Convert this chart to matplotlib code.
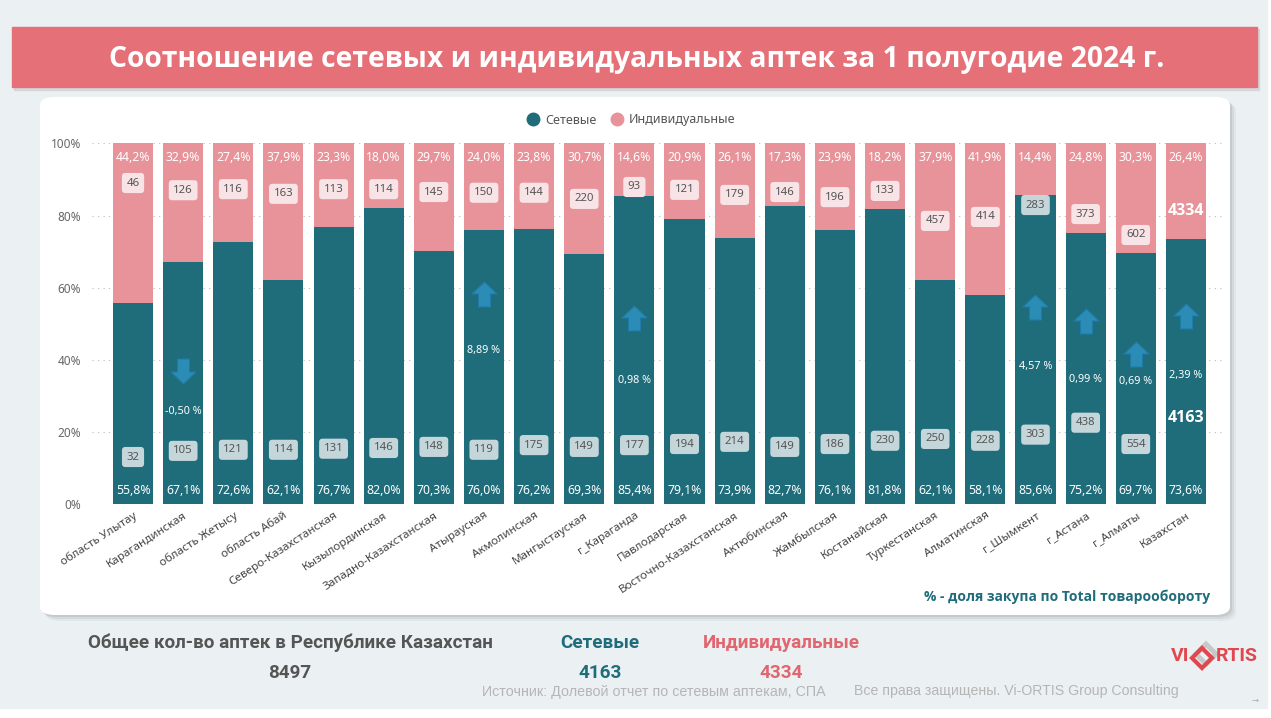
import matplotlib.pyplot as plt
import matplotlib.patches as mpatches
from matplotlib.path import Path
from matplotlib.lines import Line2D

# data
categories = ["область Улытау", "Карагандинская", "область Жетысу", "область Абай",
              "Северо-Казахстанская", "Кызылординская", "Западно-Казахстанская",
              "Атырауская", "Акмолинская", "Мангыстауская", "г_Караганда",
              "Павлодарская", "Восточно-Казахстанская", "Актюбинская", "Жамбылская",
              "Костанайская", "Туркестанская", "Алматинская", "г_Шымкент",
              "г_Астана", "г_Алматы", "Казахстан"]
net_share = [55.8, 67.1, 72.6, 62.1, 76.7, 82.0, 70.3, 76.0, 76.2, 69.3, 85.4,
             79.1, 73.9, 82.7, 76.1, 81.8, 62.1, 58.1, 85.6, 75.2, 69.7, 73.6]
ind_share = [44.2, 32.9, 27.4, 37.9, 23.3, 18.0, 29.7, 24.0, 23.8, 30.7, 14.6,
             20.9, 26.1, 17.3, 23.9, 18.2, 37.9, 41.9, 14.4, 24.8, 30.3, 26.4]
net_count = [32, 105, 121, 114, 131, 146, 148, 119, 175, 149, 177,
             194, 214, 149, 186, 230, 250, 228, 303, 438, 554, 4163]
ind_count = [46, 126, 116, 163, 113, 114, 145, 150, 144, 220, 93,
             121, 179, 146, 196, 133, 457, 414, 283, 373, 602, 4334]
change = [None, -0.50, None, None, None, None, None, 8.89, None, None, 0.98,
          None, None, None, None, None, None, None, 4.57, 0.99, 0.69, 2.39]

total_all = 8497
total_net = 4163
total_ind = 4334

# label placement (in % of axis)
ind_label_y = [89, 87, 87.3, 86, 87.3, 87.3, 86.5, 86.3, 86.3, 84.6, 87.9,
               87.1, 85.7, 86.5, 85.1, 86.8, 78.5, 79.6, 82.9, 80.4, 74.6, 81.2]
net_label_y = [13.1, 14.8, 15.1, 15.1, 15.4, 15.6, 15.9, 15.1, 16.4, 15.9, 16.4,
               16.7, 17.3, 15.9, 16.7, 17.6, 18.1, 17.6, 19.3, 22.6, 16.7, 23.9]
arrow_y = [None, 37.0, None, None, None, None, None, 58.3, None, None, 51.6,
           None, None, None, None, None, None, None, 54.7, 50.8, 41.6, 52.2]
change_text_y = [None, 25.6, None, None, None, None, None, 42.7, None, None, 34.2,
                 None, None, None, None, None, None, None, 38.1, 34.5, 33.9, 35.8]

TEAL = "#1F6C7B"
PINK = "#E8939A"
HEAD = "#E57078"
BG = "#EBF0F3"
ARROW = "#2B8DB5"
LOGO = "#E0474F"

W, H = 1271, 718


def fx(x):
    return x / W


def fy(y):
    return 1 - y / H


fig = plt.figure(figsize=(W / 100, H / 100), dpi=100, facecolor="white")
fig.add_artist(mpatches.Rectangle((0, fy(708)), fx(1267), 1 - fy(708),
                                  transform=fig.transFigure, color=BG, zorder=-5))

# header banner
fig.add_artist(mpatches.Rectangle((fx(14), fy(90)), fx(1245), fy(29) - fy(90),
                                  transform=fig.transFigure, color="#C9CDD0", alpha=0.6, zorder=-4))
fig.add_artist(mpatches.Rectangle((fx(12), fy(87)), fx(1245), fy(27) - fy(87),
                                  transform=fig.transFigure, color=HEAD, zorder=-3))
fig.text(fx(637), fy(59), "Соотношение сетевых и индивидуальных аптек за 1 полугодие 2024 г.",
         color="white", fontsize=20.3, fontweight="bold", family="Open Sans",
         ha="center", va="center")

# white panel with shadow
for off, a in [(6, 0.10), (4, 0.15), (2, 0.2)]:
    fig.add_artist(mpatches.FancyBboxPatch((fx(40 + off), fy(615 + off)), fx(1190), fy(97) - fy(615),
                                           boxstyle="round,pad=0,rounding_size=0.012",
                                           transform=fig.transFigure, color="#8A9096", alpha=a,
                                           lw=0, zorder=-2))
fig.add_artist(mpatches.FancyBboxPatch((fx(40), fy(615)), fx(1190), fy(97) - fy(615),
                                       boxstyle="round,pad=0,rounding_size=0.012",
                                       transform=fig.transFigure, color="white", lw=0, zorder=-1))

ax = fig.add_axes([fx(92), fy(504.3), fx(1223) - fx(92), fy(143.3) - fy(504.3)])
ax.set_facecolor("none")

x = list(range(len(categories)))
ax.bar(x, net_share, width=0.8, color=TEAL, zorder=2)
ax.bar(x, ind_share, bottom=net_share, width=0.8, color=PINK, zorder=2)

ax.set_xlim(-0.818, 21.74)
ax.set_ylim(0, 100)
ax.set_yticks([0, 20, 40, 60, 80, 100])
ax.set_yticklabels(["0%", "20%", "40%", "60%", "80%", "100%"], color="#666666",
                   fontsize=8.5, family="Noto Sans")
ax.yaxis.grid(True, linestyle=(0, (1, 4)), color="#BBBBBB", lw=0.8, zorder=0)
ax.tick_params(length=0, pad=8)
ax.set_xticks(x)
ax.set_xticklabels(categories, rotation=33, ha="right", rotation_mode="anchor",
                   fontsize=8.4, color="#444444", family="Noto Sans")
ax.tick_params(axis="x", pad=4)
for s in ax.spines.values():
    s.set_visible(False)

# arrow marker shape
up = Path([(-0.24, -0.5), (0.24, -0.5), (0.24, 0.02), (0.5, 0.02), (0, 0.5),
           (-0.5, 0.02), (-0.24, 0.02), (-0.24, -0.5)],
          [Path.MOVETO] + [Path.LINETO] * 6 + [Path.CLOSEPOLY])
down = Path([(vx, -vy) for vx, vy in up.vertices], up.codes)

last = len(categories) - 1
for i in x:
    ax.text(i, 96.2, f"{ind_share[i]:.1f}%".replace(".", ","), color="white",
            fontsize=8.8, ha="center", va="center", family="Noto Sans", zorder=4)
    ax.text(i, 3.7, f"{net_share[i]:.1f}%".replace(".", ","), color="white",
            fontsize=8.8, ha="center", va="center", family="Noto Sans", zorder=4)
    if i == last:
        ax.text(i, ind_label_y[i], str(ind_count[i]), color="white", fontsize=11.5,
                fontweight="bold", ha="center", va="center", family="Open Sans", zorder=4)
        ax.text(i, net_label_y[i], str(net_count[i]), color="white", fontsize=11.5,
                fontweight="bold", ha="center", va="center", family="Open Sans", zorder=4)
    else:
        for val, yy in [(ind_count[i], ind_label_y[i]), (net_count[i], net_label_y[i])]:
            box = "#C5D6DB" if yy < net_share[i] else "#F8E4E6"
            ax.text(i, yy, str(val), color="#555555", fontsize=8.2, ha="center", va="center",
                    family="Noto Sans", zorder=4,
                    bbox=dict(boxstyle="round,pad=0.4,rounding_size=0.3", fc=box, ec="none"))
    if change[i] is not None:
        ax.plot(i, arrow_y[i], marker=up if change[i] > 0 else down, markersize=18,
                color=ARROW, markeredgecolor="#1F7BAA", markeredgewidth=0.8, zorder=5)
        ax.text(i, change_text_y[i], f"{change[i]:.2f} %".replace(".", ","), color="white",
                fontsize=7.8, ha="center", va="center", family="Noto Sans", zorder=4)

# legend
handles = [Line2D([], [], marker="o", ls="", color=TEAL, markersize=9),
           Line2D([], [], marker="o", ls="", color=PINK, markersize=9)]
fig.legend(handles, ["Сетевые", "Индивидуальные"], loc="center", ncol=2,
           bbox_to_anchor=(fx(628), fy(120)), frameon=False, handletextpad=0.0,
           columnspacing=0.6, prop={"family": "Noto Sans", "size": 9}, labelcolor="#555555")

fig.text(fx(1210), fy(597), "% - доля закупа по Total товарообороту", color=TEAL,
         fontsize=10, fontweight="bold", family="Open Sans", ha="right", va="center")

# summary under panel
summary_font = dict(fontsize=13.6, fontweight="bold", family="Roboto", ha="center", va="center")
fig.text(fx(290), fy(643), "Общее кол-во аптек в Республике Казахстан", color="#555555", **summary_font)
fig.text(fx(290), fy(673), str(total_all), color="#555555", **summary_font)
fig.text(fx(600), fy(643), "Сетевые", color=TEAL, **summary_font)
fig.text(fx(600), fy(673), str(total_net), color=TEAL, **summary_font)
fig.text(fx(781), fy(643), "Индивидуальные", color="#E06670", **summary_font)
fig.text(fx(781), fy(673), str(total_ind), color="#E06670", **summary_font)
fig.text(fx(654), fy(692), "Источник: Долевой отчет по сетевым аптекам, СПА", color="#B5B5B5",
         fontsize=10.3, family="Liberation Sans", ha="center", va="center")
fig.text(fx(1016), fy(691), "Все права защищены. Vi-ORTIS Group Consulting", color="#B5B5B5",
         fontsize=10.2, family="Liberation Sans", ha="center", va="center")
fig.text(fx(1255), fy(700), "→", color="#AAAAAA", fontsize=6, ha="center", va="center")

# logo
fig.text(fx(1189), fy(656), "VI", color=LOGO, fontsize=14, fontweight="bold",
         family="Roboto", ha="right", va="center")
fig.text(fx(1216), fy(656), "RTIS", color=LOGO, fontsize=14, fontweight="bold",
         family="Roboto", ha="left", va="center")


def diamond(cx, cy, r):
    return [(fx(cx - r), fy(cy)), (fx(cx), fy(cy - r)), (fx(cx + r), fy(cy)), (fx(cx), fy(cy + r))]


fig.add_artist(mpatches.Polygon(diamond(1206, 654, 10), closed=True, transform=fig.transFigure,
                                fc="none", ec="#C8C8C8", lw=3.5))
fig.add_artist(mpatches.Polygon(diamond(1202, 658, 10), closed=True, transform=fig.transFigure,
                                fc="none", ec=LOGO, lw=3))

fig.savefig("out.png", dpi=100, facecolor="white")
